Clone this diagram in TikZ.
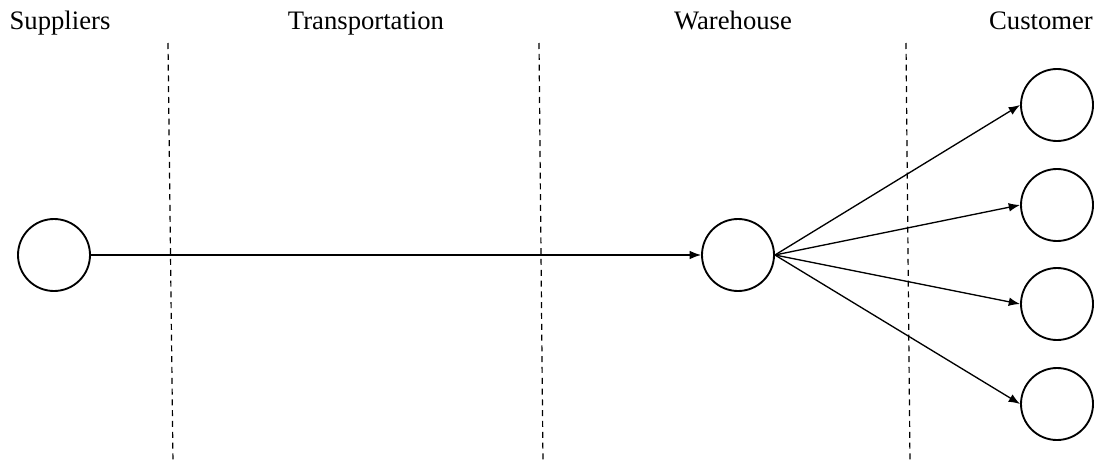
\documentclass[tikz,border=0pt]{standalone}
\usepackage{fontspec}
\setmainfont{Liberation Serif}
\usetikzlibrary{arrows.meta}
\begin{document}
\begin{tikzpicture}[x=0.75pt,y=-0.75pt,
  stage/.style={circle,draw,line width=1.4pt,minimum size=54pt,inner sep=0pt},
  flow/.style={line width=1pt,-{Latex[length=8.5pt,width=6.5pt]}},
  divider/.style={line width=0.9pt,dash pattern=on 4.5pt off 3.6pt},
  heading/.style={font=\fontsize{20}{24}\selectfont,anchor=base}]
\useasboundingbox (0,0) rectangle (1099,464);

% column headings
\node[heading] (hsup) at (60,29) {Suppliers};
\node[heading] (htra) at (366,29) {Transportation};
\node[heading] (hwar) at (733,29) {Warehouse};
\node[heading] (hcus) at (1041,29) {Customer};

% column dividers
\coordinate (d1t) at (168,43);  \coordinate (d1b) at (173,464);
\coordinate (d2t) at (539,43);  \coordinate (d2b) at (543,464);
\coordinate (d3t) at (906,43);  \coordinate (d3b) at (910,464);
\draw[divider] (d1t) -- (d1b);
\draw[divider] (d2t) -- (d2b);
\draw[divider] (d3t) -- (d3b);

% nodes
\node[stage] (sup) at (54,255) {};
\node[stage] (war) at (738,255) {};
\node[stage] (c1) at (1057,105) {};
\node[stage] (c2) at (1057,205) {};
\node[stage] (c3) at (1057,304) {};
\node[stage] (c4) at (1057,404) {};

% flows
\draw[flow] (sup.east) -- (war.west);
\draw[flow] (war.east) -- (c1.west);
\draw[flow] (war.east) -- (c2.west);
\draw[flow] (war.east) -- (c3.west);
\draw[flow] (war.east) -- (c4.west);
\end{tikzpicture}
\end{document}
